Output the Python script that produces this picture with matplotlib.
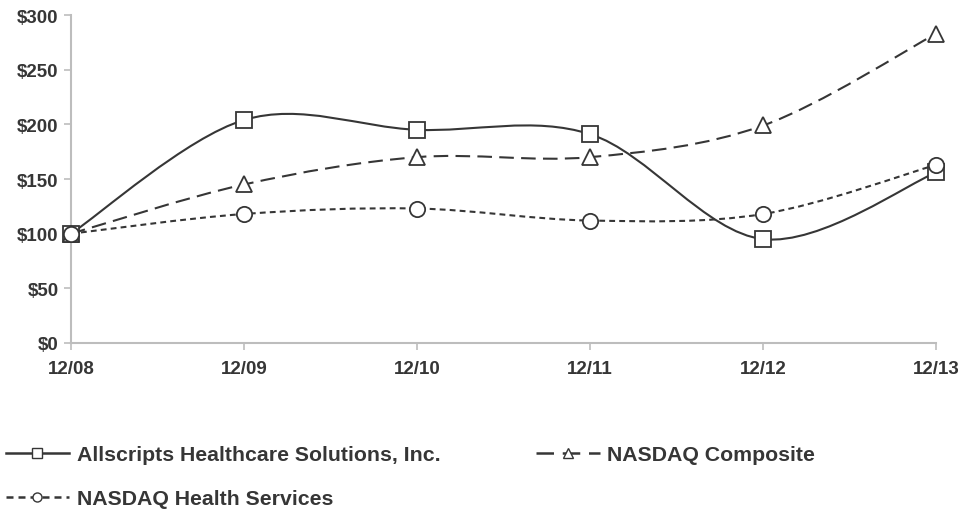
import matplotlib
matplotlib.use("Agg")
import matplotlib.pyplot as plt
from matplotlib.path import Path
from matplotlib.patches import PathPatch
from matplotlib.lines import Line2D

plt.rcParams['font.family'] = ['Liberation Sans', 'DejaVu Sans']

periods = ["12/08", "12/09", "12/10", "12/11", "12/12", "12/13"]
allscripts = [100, 204, 195, 191, 95, 156]
nasdaq_comp = [100, 145, 170, 170, 199, 283]
nasdaq_health = [100, 118, 123, 112, 118, 163]
y_ticks = [0, 50, 100, 150, 200, 250, 300]

INK = "#363636"
AXIS = "#bdbdbd"


def smooth_path(xs, ys):
    # excel-like smoothed line: cubic bezier between points (catmull-rom style)
    pts = list(zip(xs, ys))
    verts = [pts[0]]
    codes = [Path.MOVETO]
    n = len(pts)
    for i in range(n - 1):
        p0 = pts[i - 1] if i > 0 else pts[i]
        p1 = pts[i]
        p2 = pts[i + 1]
        p3 = pts[i + 2] if i + 2 < n else pts[i + 1]
        c1 = (p1[0] + (p2[0] - p0[0]) / 6, p1[1] + (p2[1] - p0[1]) / 6)
        c2 = (p2[0] - (p3[0] - p1[0]) / 6, p2[1] - (p3[1] - p1[1]) / 6)
        verts += [c1, c2, p2]
        codes += [Path.CURVE4] * 3
    return Path(verts, codes)


series = [
    ("Allscripts Healthcare Solutions, Inc.", allscripts, "s", "-"),
    ("NASDAQ Composite", nasdaq_comp, "^", (0, (7, 3.5))),
    ("NASDAQ Health Services", nasdaq_health, "o", (0, (2.8, 2))),
]

fig = plt.figure(figsize=(9.62, 5.1), dpi=100)
ax = fig.add_axes([0.0738, 0.3255, 0.8995, 0.6431])

xs = list(range(len(periods)))
handles = {}
for name, vals, mk, ls in series:
    patch = PathPatch(smooth_path(xs, vals), fill=False, edgecolor=INK,
                      linewidth=1.5, linestyle=ls, zorder=2)
    ax.add_patch(patch)
    ax.plot(xs, vals, linestyle="none", marker=mk, markersize=11,
            markerfacecolor="white", markeredgecolor=INK,
            markeredgewidth=1.3, zorder=3, clip_on=False)
    handles[name] = Line2D([], [], color=INK, linewidth=1.8, linestyle=ls,
                           marker=mk, markersize=6.5, markerfacecolor="white",
                           markeredgecolor=INK, label=name)

ax.set_xlim(0, len(periods) - 1)
ax.set_ylim(0, 300)
ax.set_xticks(xs)
ax.set_xticklabels(periods)
ax.set_yticks(y_ticks)
ax.set_yticklabels([f"${v}" for v in y_ticks])

for side in ["top", "right"]:
    ax.spines[side].set_visible(False)
for side in ["left", "bottom"]:
    ax.spines[side].set_color(AXIS)
    ax.spines[side].set_linewidth(1.5)

ax.tick_params(axis="both", colors=AXIS, width=1.2, length=5,
               labelcolor=INK, labelsize=13.5)
ax.tick_params(axis="x", pad=7)
ax.tick_params(axis="y", pad=4)
for lbl in ax.get_xticklabels() + ax.get_yticklabels():
    lbl.set_fontweight("bold")

# column-major order so rows read: Allscripts, Composite / Health Services
order = ["Allscripts Healthcare Solutions, Inc.", "NASDAQ Health Services",
         "NASDAQ Composite"]
leg = fig.legend(handles=[handles[k] for k in order], loc="upper left",
                 bbox_to_anchor=(-0.003, 0.142), ncol=2, frameon=False,
                 handlelength=3.0, handletextpad=0.35, columnspacing=4.5,
                 labelspacing=1.17, borderaxespad=0.0,
                 prop={"size": 15.3, "weight": "bold"})
for t in leg.get_texts():
    t.set_color(INK)

fig.savefig("out.png", dpi=100)
